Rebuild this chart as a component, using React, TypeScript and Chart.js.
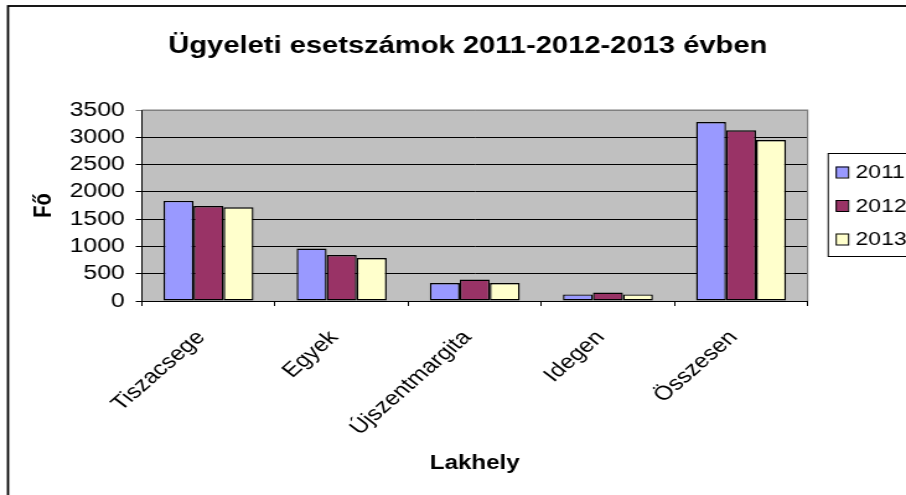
import React, { useEffect, useRef } from "react";
import { Chart, registerables } from "chart.js";

Chart.register(...registerables);

const categories = ["Tiszacsege", "Egyek", "Újszentmargita", "Idegen", "Összesen"];
const seriesLabels = ["2011", "2012", "2013"];
const values2011 = [1833, 960, 330, 120, 3280];
const values2012 = [1741, 843, 392, 155, 3128];
const values2013 = [1717, 788, 330, 120, 2950];
const seriesColors = ["#9999FF", "#993366", "#FFFFCC"];
const yTicks = [0, 500, 1000, 1500, 2000, 2500, 3000, 3500];
const titleText = "Ügyeleti esetszámok 2011-2012-2013 évben";
const xTitle = "Lakhely";
const yTitle = "Fő";

const DISPLAY_W = 906;
const DISPLAY_H = 495;
const SX = 1.24;
const W = Math.round(DISPLAY_W / SX);
const H = DISPLAY_H;
const FONT = "'Liberation Sans', Arial, Helvetica, sans-serif";

const PLOT_LEFT = 142 / SX;
const PLOT_RIGHT = 808 / SX;
const PLOT_TOP = 110;
const PLOT_BOTTOM = 301;
const PAD_LEFT = 10;
const PAD_BOTTOM = 10;

const decor = {
  id: "decor",
  beforeDraw(chart: any) {
    const { ctx, chartArea } = chart;
    ctx.save();
    ctx.fillStyle = "#ffffff";
    ctx.fillRect(0, 0, chart.width, chart.height);
    ctx.strokeStyle = "#000000";
    ctx.lineWidth = 1.8;
    ctx.strokeRect(8 / SX, 6, W + 20, H + 20);
    ctx.fillStyle = "#C0C0C0";
    ctx.fillRect(chartArea.left, chartArea.top, chartArea.right - chartArea.left, chartArea.bottom - chartArea.top);
    ctx.restore();
  },
  afterDraw(chart: any) {
    const { ctx, chartArea } = chart;
    ctx.save();
    ctx.strokeStyle = "#808080";
    ctx.lineWidth = 1.2;
    ctx.beginPath();
    ctx.moveTo(chartArea.left, chartArea.top);
    ctx.lineTo(chartArea.right, chartArea.top);
    ctx.lineTo(chartArea.right, chartArea.bottom);
    ctx.stroke();
    ctx.fillStyle = "#000000";
    ctx.font = `bold 23.5px ${FONT}`;
    ctx.textAlign = "center";
    ctx.textBaseline = "alphabetic";
    ctx.fillText(titleText, 468 / SX, 53);
    const lx = 828 / SX;
    const ly = 153;
    ctx.fillStyle = "#ffffff";
    ctx.fillRect(lx, ly, W - lx + 20, 103);
    ctx.strokeStyle = "#000000";
    ctx.lineWidth = 1;
    ctx.strokeRect(lx + 0.5, ly + 0.5, W - lx + 20, 103);
    ctx.font = `18.5px ${FONT}`;
    ctx.textAlign = "left";
    ctx.textBaseline = "middle";
    chart.data.datasets.forEach((ds: any, i: number) => {
      const cy = 172 + i * 33.5;
      const sx = 836 / SX;
      ctx.fillStyle = ds.backgroundColor;
      ctx.fillRect(sx, cy - 5.5, 10, 11);
      ctx.strokeStyle = "#000000";
      ctx.lineWidth = 1;
      ctx.strokeRect(sx + 0.5, cy - 5.5 + 0.5, 10, 11);
      ctx.fillStyle = "#000000";
      ctx.fillText(ds.label, 856 / SX, cy + 1);
    });
    ctx.restore();
  },
};

export default function App() {
  const ref = useRef<HTMLCanvasElement | null>(null);
  useEffect(() => {
    if (!ref.current) return;
    Chart.defaults.font.family = FONT;
    Chart.defaults.color = "#000000";
    const chart = new Chart(ref.current, {
      type: "bar",
      data: {
        labels: categories,
        datasets: [values2011, values2012, values2013].map((vals, i) => ({
          label: seriesLabels[i],
          data: vals,
          backgroundColor: seriesColors[i],
          borderColor: "#000000",
          borderWidth: 1.4,
          borderSkipped: false,
          categoryPercentage: 0.676,
          barPercentage: 1,
        })),
      },
      options: {
        responsive: false,
        animation: false,
        devicePixelRatio: 1,
        layout: {
          padding: {
            left: PAD_LEFT,
            top: PLOT_TOP,
            right: W - PLOT_RIGHT,
            bottom: PAD_BOTTOM,
          },
        },
        plugins: {
          legend: { display: false },
          title: { display: false },
          tooltip: { enabled: false },
        },
        scales: {
          x: {
            grid: {
              offset: true,
              drawOnChartArea: false,
              drawTicks: true,
              tickLength: 5,
              color: "#000000",
            },
            border: { display: true, color: "#000000", width: 1 },
            ticks: {
              autoSkip: false,
              maxRotation: 47,
              minRotation: 47,
              padding: 20,
              labelOffset: -6,
              font: { size: 20 },
              color: "#000000",
            },
            title: {
              display: true,
              text: xTitle,
              font: { size: 19.5, weight: "bold" },
              padding: { top: 0, bottom: 9.3 },
              color: "#000000",
            },
            afterFit(scale: any) {
              scale.height = H - PAD_BOTTOM - PLOT_BOTTOM;
            },
          },
          y: {
            min: 0,
            max: 3500,
            afterBuildTicks(scale: any) {
              scale.ticks = yTicks.map((v) => ({ value: v }));
            },
            grid: {
              color: (c: any) => (c.tick && c.tick.value === 3500 ? "#808080" : "#000000"),
              lineWidth: 1,
              tickLength: 5,
              drawTicks: true,
            },
            border: { display: true, color: "#000000", width: 1 },
            ticks: {
              padding: 8.8,
              font: { size: 20 },
              color: "#000000",
              callback: (v: any) => String(v),
            },
            title: {
              display: true,
              text: yTitle,
              font: { size: 20, weight: "bold" },
              padding: { top: 13, bottom: 0 },
              color: "#000000",
            },
            afterFit(scale: any) {
              scale.width = PLOT_LEFT - PAD_LEFT;
            },
          },
        },
      },
      plugins: [decor],
    });
    return () => chart.destroy();
  }, []);
  return (
    <div style={{ position: "absolute", left: 0, top: 0, width: DISPLAY_W, height: DISPLAY_H }}>
      <canvas
        ref={ref}
        width={W}
        height={H}
        style={{ width: `${DISPLAY_W}px`, height: `${DISPLAY_H}px`, display: "block" }}
      />
    </div>
  );
}
